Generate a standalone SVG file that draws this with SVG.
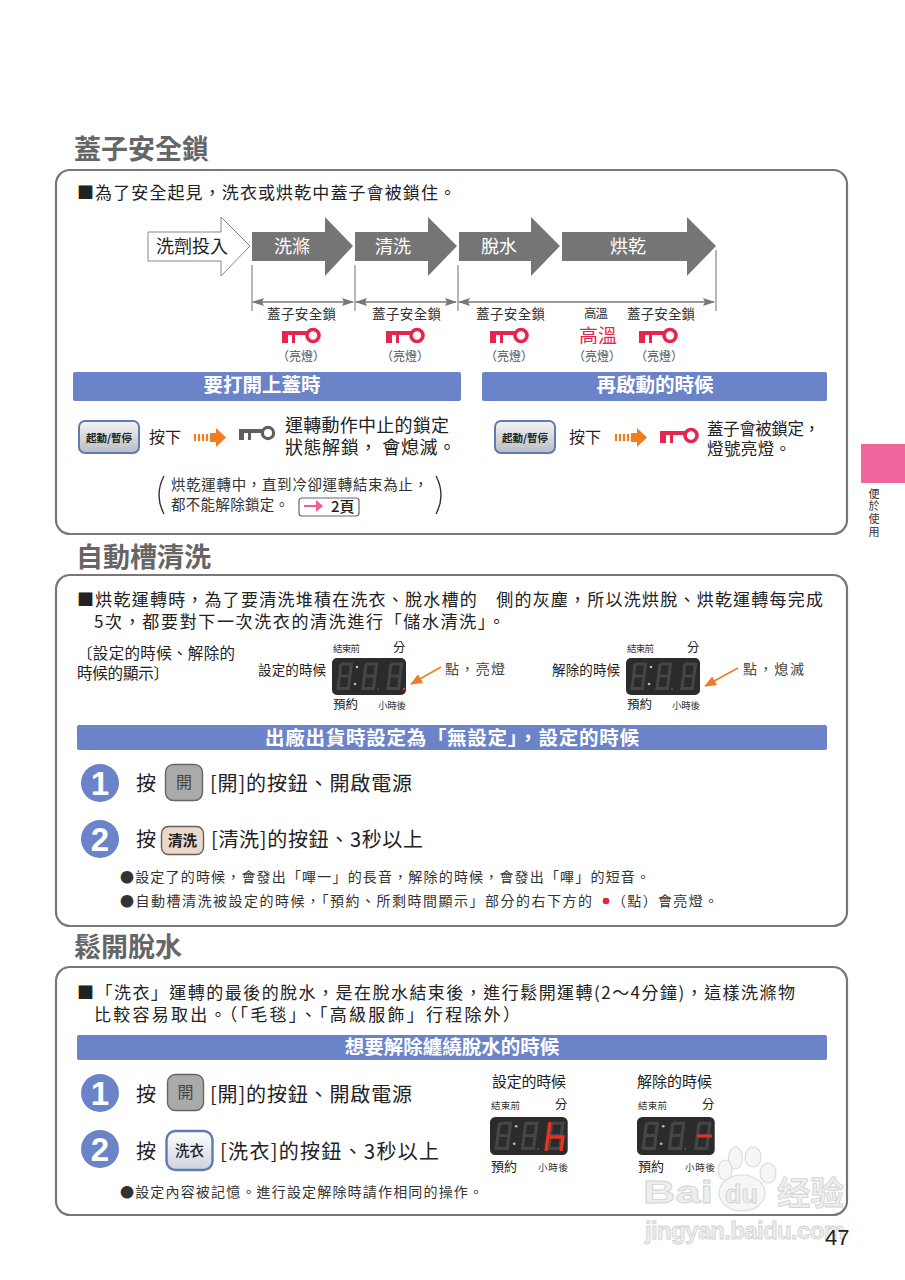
<svg xmlns="http://www.w3.org/2000/svg" width="905" height="1280" viewBox="0 0 905 1280">
<style>
text{font-family:"Noto Sans CJK TC","Liberation Sans",sans-serif;fill:#222}
.title{font-size:27px;font-weight:700;fill:#666}
.panel{fill:#fff;stroke:#777;stroke-width:2.2}
.bar{fill:#6b84c9}
.bartx{font-size:19.5px;font-weight:700;fill:#fff;text-anchor:middle}
.flow{fill:#757575}
.flowtx{font-size:18px;fill:#fff;text-anchor:middle}
.main{font-size:17px}
.big{font-size:20px}
.note{font-size:14px;fill:#333}
.small{font-size:13.5px;fill:#333}
.lit{font-size:12px;fill:#555;text-anchor:middle}
.tiny{font-size:9.5px;fill:#333}
.dim{stroke:#777;stroke-width:1.4;fill:none;marker-start:url(#ah);marker-end:url(#ah)}
.tick{stroke:#888;stroke-width:1.2}
.ptr{stroke:#ee7a2b;stroke-width:1.5;fill:none;marker-end:url(#oh)}
.num{fill:#6b84c9}
.numtx{font-family:"Liberation Sans",sans-serif;font-size:33px;font-weight:700;fill:#fff;text-anchor:middle}
.bg{fill:#aaa;stroke:#666;stroke-width:1.4}
.wm{font-family:"Liberation Sans",sans-serif;font-weight:700;fill:#eee;stroke:#d2d2d2;stroke-width:.8}
.seg{fill:none;stroke:#464646;stroke-width:3}
.paw{fill:#f6f6f6;stroke:#dcdcdc;stroke-width:1.2}
</style>
<defs>
<linearGradient id="gb" x1="0" y1="0" x2="0" y2="1"><stop offset="0" stop-color="#f4f4f4"/><stop offset="1" stop-color="#b8bcc4"/></linearGradient>
<linearGradient id="gw" x1="0" y1="0" x2="0" y2="1"><stop offset="0" stop-color="#fff"/><stop offset="1" stop-color="#cdd2dc"/></linearGradient>
<marker id="ah" viewBox="0 0 12 8" refX="11" refY="4" markerWidth="12" markerHeight="8" markerUnits="userSpaceOnUse" orient="auto-start-reverse"><path d="M0 0L12 4L0 8L2 4Z" fill="#777"/></marker>
<marker id="oh" viewBox="0 0 12 10" refX="11" refY="5" markerWidth="12" markerHeight="10" markerUnits="userSpaceOnUse" orient="auto"><path d="M0 0L12 5L0 10Z" fill="#ee7a2b"/></marker>
<g id="keyr"><path d="M0 3H26V7H13V15H10V7H6V15H0Z" fill="#e6264f"/><circle cx="31" cy="7.5" r="6" fill="#fff" stroke="#e6264f" stroke-width="3.6"/></g>
<g id="keyg"><path d="M0 3H24V7H12V14H9V7H5V14H0Z" fill="#5f5f5f"/><circle cx="29" cy="7" r="5.6" fill="#fff" stroke="#5f5f5f" stroke-width="3.2"/></g>
<g id="oarrow"><path d="M0 6V13M4 6V13M8 6V13M12 6V13" stroke="#f07d1e" stroke-width="2.2"/><path d="M15 5H21V0L31 9.5L21 19V14H15Z" fill="#f07d1e"/></g>
<path id="digit" class="seg" d="M4 2H14.5L13 14L11.500 26.500H1L2.500 14L4 2M2.500 14H13"/>
<g id="led">
<rect width="74" height="37" rx="5" fill="#2b2b2b"/>
<use href="#digit" x="5" y="4"/><use href="#digit" x="30" y="4"/><use href="#digit" x="55" y="4"/>
<circle cx="25" cy="9" r="1.300" fill="#bbb"/><circle cx="23" cy="26" r="1.300" fill="#bbb"/><circle cx="46" cy="31" r=".8" fill="#666"/>
</g>
<g id="kbtn"><rect width="60" height="32" rx="6" fill="url(#gb)" stroke="#5d7cb0" stroke-width="2"/><text x="30" y="21" font-size="10.5" font-weight="700" text-anchor="middle" fill="#333">起動/暫停</text></g>
</defs>
<rect width="905" height="1280" fill="#fff"/>

<g id="sec1">
<text class="title" x="74" y="159" textLength="135">蓋子安全鎖</text>
<rect class="panel" x="56" y="170" width="791" height="364" rx="14"/>
<text class="main" x="77" y="199" textLength="379">■為了安全起見，洗衣或烘乾中蓋子會被鎖住。</text>
</g>
<g id="flow-input"><path d="M148 232H221V217L250 246L221 276V261H148Z" fill="#fff" stroke="#888" stroke-width="1"/><text x="156" y="253" font-size="18" textLength="72">洗劑投入</text></g>
<g id="flow-wash"><path class="flow" d="M252 232H325V217L353 246L325 276V261H252Z"/><text class="flowtx" x="292" y="253">洗滌</text></g>
<g id="flow-rinse"><path class="flow" d="M355 232H428V217L457 246L428 276V261H355Z"/><text class="flowtx" x="393" y="253">清洗</text></g>
<g id="flow-spin"><path class="flow" d="M459 232H531V217L560 246L531 276V261H459Z"/><text class="flowtx" x="499" y="253">脫水</text></g>
<g id="flow-dry"><path class="flow" d="M562 232H687V217L716 246L687 276V261H562Z"/><text class="flowtx" x="628" y="253">烘乾</text></g>

<g id="lock-labels">
<text class="small" x="267" y="319" textLength="69">蓋子安全鎖</text>
<text class="small" x="372" y="319" textLength="69">蓋子安全鎖</text>
<text class="small" x="476" y="319" textLength="69">蓋子安全鎖</text>
<text x="584" y="318" style="font-size:12.5px;fill:#333" textLength="24">高溫</text>
<text class="small" x="627" y="319" textLength="68">蓋子安全鎖</text>
<use href="#keyr" x="282" y="328"/><use href="#keyr" x="386" y="328"/><use href="#keyr" x="490" y="328"/><use href="#keyr" x="639" y="328"/>
<text x="579" y="343" style="font-size:19px;fill:#e6264f">高溫</text>
<text class="lit" x="301" y="361">（亮燈）</text><text class="lit" x="405" y="361">（亮燈）</text><text class="lit" x="509" y="361">（亮燈）</text><text class="lit" x="597" y="361">（亮燈）</text><text class="lit" x="659" y="361">（亮燈）</text>
</g>

<g id="open-lid">
<rect class="bar" x="73" y="372" width="388" height="29" rx="2"/>
<text class="bartx" x="262" y="392">要打開上蓋時</text>
<use href="#kbtn" x="79" y="421"/>
<text x="149" y="443" style="font-size:16px">按下</text>
<use href="#oarrow" x="195" y="428"/>
<use href="#keyg" x="239" y="426"/>
<text x="285" y="432" style="font-size:18px" textLength="164">運轉動作中止的鎖定</text>
<text x="285" y="454" style="font-size:18px" textLength="171" xml:space="preserve">狀態解鎖， 會熄滅。</text>
</g>
<g id="note">
<path d="M164 476Q154 495 164 514M436 476Q446 495 436 514" fill="none" stroke="#333" stroke-width="1.4"/>
<text class="note" x="171" y="490" textLength="257" style="font-size:14.5px">烘乾運轉中，直到冷卻運轉結束為止，</text>
<text class="note" x="171" y="510" textLength="118" style="font-size:14.5px">都不能解除鎖定。</text>
<rect x="299" y="498" width="60" height="18" rx="3" fill="#fff" stroke="#666" stroke-width="1.2"/>
<path d="M304 505H316V500L323 506L316 512V507H304Z" fill="#ee5d96"/>
<text x="331" y="512" style="font-size:15px;font-weight:500">2頁</text>
</g>
<g id="restart">
<rect class="bar" x="482" y="372" width="345" height="29" rx="2"/>
<text class="bartx" x="655" y="392">再啟動的時候</text>
<use href="#kbtn" x="495" y="421"/>
<text x="569" y="443" style="font-size:16px">按下</text>
<use href="#oarrow" x="616" y="428"/>
<use href="#keyr" x="660" y="428"/>
<text x="707" y="435" style="font-size:16.5px" textLength="113">蓋子會被鎖定，</text>
<text x="707" y="455" style="font-size:16.5px" textLength="84">燈號亮燈。</text>
</g>
<g id="side-tab">
<rect x="861" y="444" width="44" height="39" fill="#f0659b"/>
<text x="874" y="488" style="font-size:11px;writing-mode:vertical-rl;fill:#333" textLength="49">便於使用</text>
</g>

<g id="sec2">
<text class="title" x="76" y="567" textLength="135">自動槽清洗</text>
<rect class="panel" x="56" y="575" width="791" height="351" rx="14"/>
<text class="main" x="77" y="606" textLength="746" xml:space="preserve">■烘乾運轉時，為了要清洗堆積在洗衣、脫水槽的　側的灰塵，所以洗烘脫、烘乾運轉每完成</text>
<text class="main" x="94" y="628" textLength="411">5次，都要對下一次洗衣的清洗進行「儲水清洗」。</text>
<text x="77" y="659" style="font-size:15.5px" textLength="158">〔設定的時候、解除的</text>
<text x="77" y="679" style="font-size:15.5px" textLength="92">時候的顯示〕</text>
</g>
<g id="led-set">
<text class="tiny" x="333" y="652" textLength="27">結束前</text><text x="393" y="652" style="font-size:12.5px">分</text>
<text x="258" y="675" style="font-size:13.5px" textLength="68">設定的時候</text>
<use href="#led" x="332" y="658"/><circle cx="404" cy="689" r="1.3" fill="#e0301e"/>
<text x="333" y="709" style="font-size:12.5px">預約</text><text class="tiny" x="378" y="709" textLength="28">小時後</text>
<text x="445" y="674" style="font-size:14px;fill:#444" textLength="60">點，亮燈</text>
</g>
<g id="led-clear">
<text class="tiny" x="627" y="652" textLength="27">結束前</text><text x="687" y="652" style="font-size:12.5px">分</text>
<text x="552" y="675" style="font-size:13.5px" textLength="68">解除的時候</text>
<use href="#led" x="626" y="658"/>
<text x="627" y="709" style="font-size:12.5px">預約</text><text class="tiny" x="672" y="709" textLength="28">小時後</text>
<text x="743" y="674" style="font-size:14px;fill:#444" textLength="61">點，熄滅</text>
</g>
<g id="factory-bar">
<rect class="bar" x="77" y="725" width="750" height="25" rx="2"/>
<text class="bartx" x="452" y="745" textLength="374">出廠出貨時設定為「無設定」，設定的時候</text>
</g>
<g id="step2-1">
<circle class="num" cx="100" cy="783" r="19"/><text class="numtx" x="100" y="795">1</text>
<text class="big" x="136" y="791">按</text>
<rect class="bg" x="165.5" y="764.5" width="37" height="36" rx="8"/><text x="184" y="788" style="font-size:16px;fill:#444;text-anchor:middle">開</text>
<text class="big" x="210" y="791" textLength="202">[開]的按鈕、開啟電源</text>
</g>
<g id="step2-2">
<circle class="num" cx="100" cy="839" r="19"/><text class="numtx" x="100" y="851">2</text>
<text class="big" x="136" y="847">按</text>
<rect x="161.5" y="826.5" width="42" height="28" rx="7" fill="#ead8cc" stroke="#6b5b50" stroke-width="1.4"/><text x="182.5" y="846" style="font-size:14.5px;font-weight:700;text-anchor:middle">清洗</text>
<text class="big" x="211" y="847" textLength="212">[清洗]的按鈕、3秒以上</text>
</g>
<g id="notes2">
<text class="note" x="120" y="882" textLength="530">●設定了的時候，會發出「嗶一」的長音，解除的時候，會發出「嗶」的短音。</text>
<text class="note" x="120" y="906" textLength="472">●自動槽清洗被設定的時候，「預約、所剩時間顯示」部分的右下方的</text>
<circle cx="606" cy="901" r="3.3" fill="#e0263a"/>
<text class="note" x="612" y="906" textLength="106">（點）會亮燈。</text>
</g>

<g id="sec3">
<text class="title" x="74" y="957" textLength="108">鬆開脫水</text>
<rect class="panel" x="56" y="967" width="791" height="248" rx="14"/>
<text class="main" x="77" y="999" textLength="718">■「洗衣」運轉的最後的脫水，是在脫水結束後，進行鬆開運轉(2～4分鐘)，這樣洗滌物</text>
<text class="main" x="94" y="1021" textLength="426">比較容易取出。（「毛毯」、「高級服飾」行程除外）</text>
<rect class="bar" x="77" y="1035" width="750" height="25" rx="2"/>
<text class="bartx" x="452" y="1054">想要解除纏繞脫水的時候</text>
</g>
<g id="step3-1">
<circle class="num" cx="100" cy="1093" r="19"/><text class="numtx" x="100" y="1105">1</text>
<text class="big" x="136" y="1102">按</text>
<rect class="bg" x="167.5" y="1074.5" width="36" height="36" rx="8"/><text x="185.5" y="1098" style="font-size:16px;fill:#444;text-anchor:middle">開</text>
<text class="big" x="210" y="1102" textLength="202">[開]的按鈕、開啟電源</text>
</g>
<g id="step3-2">
<circle class="num" cx="100" cy="1149" r="19"/><text class="numtx" x="100" y="1161">2</text>
<text class="big" x="136" y="1159">按</text>
<rect x="166.5" y="1131" width="46" height="39" rx="9" fill="url(#gw)" stroke="#5d7cb0" stroke-width="2.4"/><text x="189.5" y="1156" style="font-size:14.5px;font-weight:500;text-anchor:middle">洗衣</text>
<text class="big" x="220" y="1159" textLength="219">[洗衣]的按鈕、3秒以上</text>
<text class="note" x="120" y="1197" textLength="363">●設定內容被記憶。進行設定解除時請作相同的操作。</text>
</g>
<g id="led-h">
<text x="492" y="1087" style="font-size:15px" textLength="74">設定的時候</text>
<text class="tiny" x="491" y="1109" textLength="29">結束前</text><text x="555" y="1109" style="font-size:12.5px">分</text>
<use href="#led" transform="translate(490 1117) scale(1.05 1.03)"/>
<path d="M550 1122L546 1151M547.5 1137H563L561 1151" fill="none" stroke="#e8321e" stroke-width="3.4"/>
<text x="491" y="1171" style="font-size:13px">預約</text><text class="tiny" x="538" y="1171" textLength="30">小時後</text>
</g>
<g id="led-dash">
<text x="637" y="1087" style="font-size:15px" textLength="75">解除的時候</text>
<text class="tiny" x="638" y="1109" textLength="29">結束前</text><text x="702" y="1109" style="font-size:12.5px">分</text>
<use href="#led" transform="translate(637 1117) scale(1.05 1.03)"/>
<path d="M697 1136H712" fill="none" stroke="#e8321e" stroke-width="3"/>
<text x="638" y="1171" style="font-size:13px">預約</text><text class="tiny" x="685" y="1171" textLength="30">小時後</text>
</g>

<g id="connectors">
<path class="tick" d="M252 265V311M355 265V311M458 265V311M716 250V311"/>
<path class="dim" d="M253 302H353"/><path class="dim" d="M356 302H456"/><path class="dim" d="M459 302H714"/>
<path class="ptr" d="M441 667L411 684"/><path class="ptr" d="M738 668L705 686"/>
</g>

<g id="watermark">
<ellipse class="paw" cx="735.500" cy="1158" rx="7" ry="11"/><ellipse class="paw" cx="753" cy="1157" rx="8" ry="10"/><ellipse class="paw" cx="768" cy="1173" rx="8" ry="10"/><ellipse class="paw" cx="725" cy="1170" rx="7" ry="10"/>
<ellipse class="paw" cx="742" cy="1193" rx="23" ry="18"/>
<text class="wm" x="643" y="1203" style="font-size:32px" textLength="70" lengthAdjust="spacingAndGlyphs">Bai</text>
<text class="wm" x="725" y="1203" style="font-size:26px" textLength="33" lengthAdjust="spacingAndGlyphs">du</text>
<text class="wm" x="777" y="1205" style="font-size:33px;font-family:'Noto Sans CJK SC',sans-serif" textLength="67" lengthAdjust="spacingAndGlyphs">经验</text>
<text class="wm" x="645" y="1239" style="font-size:24px" textLength="200">jingyan.baidu.com</text>
</g>
<text id="page" x="825" y="1245" style="font-family:'Liberation Sans',sans-serif;font-size:22px">47</text>
</svg>
